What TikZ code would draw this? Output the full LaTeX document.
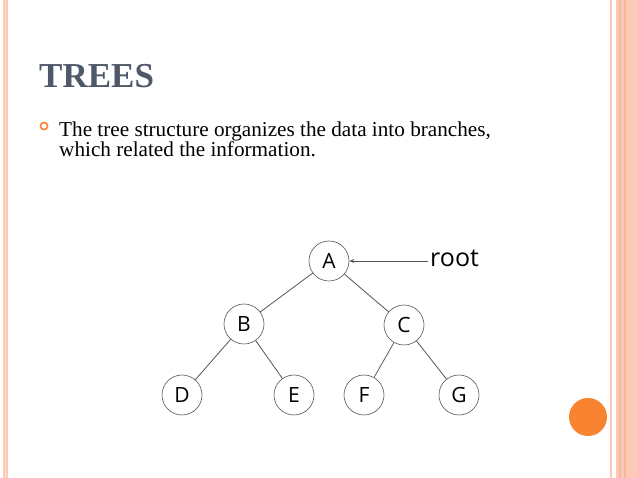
\documentclass[tikz,border=0pt]{standalone}
\usepackage{fontspec}
\setmainfont{Liberation Serif}
\newfontfamily\nodefont{Open Sans}
\usetikzlibrary{arrows.meta}
\definecolor{peach}{HTML}{FCCAB6}
\definecolor{peachdk}{HTML}{F8B89E}
\definecolor{titlecol}{HTML}{4F5869}
\definecolor{orng}{HTML}{F88432}
\definecolor{edgecol}{HTML}{555555}
\tikzset{
  tnode/.style={circle, draw=edgecol, line width=0.6pt, minimum size=40pt, inner sep=0pt, font=\nodefont\fontsize{21}{21}\selectfont, text=black},
  tedge/.style={draw=edgecol, line width=0.8pt},
}
\begin{document}
\begin{tikzpicture}[x=1pt,y=-1pt]
\useasboundingbox (0,0) rectangle (638,478);
\fill[white] (0,0) rectangle (638,478);
% left stripe
\fill[peach] (3,0) rectangle (7.5,478);
\fill[peach!60] (4.5,0) rectangle (5.8,478);
% right stripes
\fill[peach] (610,0) rectangle (612,478);
\fill[peach] (616,0) rectangle (638,478);
\fill[peachdk] (619,0) rectangle (621,478);
\fill[peachdk] (624,0) rectangle (625.5,478);
% title
\node[anchor=base west, inner sep=0pt, text=titlecol, font=\bfseries\fontsize{35}{35}\selectfont] (title) at (39,88) {TREES};
% bullet
\draw[orng, line width=1.6pt] (44,126) circle (3.6);
\node[anchor=base west, inner sep=0pt, font=\fontsize{21.2}{21.2}\selectfont] (l1) at (59,137) {The tree structure organizes the data into branches,};
\node[anchor=base west, inner sep=0pt, font=\fontsize{21.2}{21.2}\selectfont] (l2) at (59,157) {which related the information.};
% tree
\node[tnode] (A) at (329,261) {A};
\node[tnode] (B) at (244,324) {B};
\node[tnode] (C) at (404,325) {C};
\node[tnode] (D) at (182,395) {D};
\node[tnode] (E) at (294,395) {E};
\node[tnode] (F) at (364,395) {F};
\node[tnode] (G) at (459,395) {G};
\draw[tedge] (A) -- (B);
\draw[tedge] (A) -- (C);
\draw[tedge] (B) -- (D);
\draw[tedge] (B) -- (E);
\draw[tedge] (C) -- (F);
\draw[tedge] (C) -- (G);
\node[anchor=base west, inner sep=0pt, font=\nodefont\fontsize{25}{25}\selectfont, text=black] (root) at (430,267) {root};
\draw[tedge, -{Stealth[length=5pt,width=4pt]}] (root.west |- A.east) ++(-2,0) coordinate (rs) (rs) -- (A.east);
% orange circle
\fill[orng] (588,417) circle (19);
\end{tikzpicture}
\end{document}
